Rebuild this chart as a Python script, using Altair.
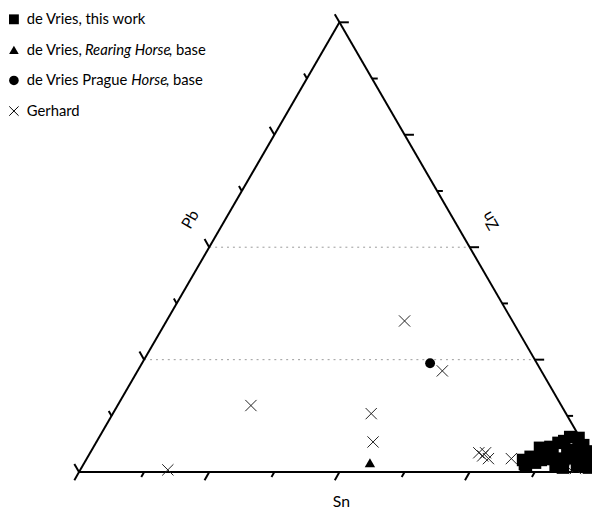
import altair as alt
import pandas as pd
import numpy as np

# ---- data: ternary shares in % (apex component, right-corner component) ----
sq_apex = [2.7, 3.4, 1.2, 2.1, 2.7, 5.4, 5.6, 3.8, 6.5, 6.9, 7.8, 7.6, 6.0, 4.9, 4.3, 3.0, 3.6, 2.1, 1.6, 1.0, 1.4,
           2.9, 1.8, 3.1, 1.0, 1.5, 4.5, 4.6]
sq_right = [83.9, 85.0, 85.2, 86.5, 87.3, 85.8, 87.7, 89.0, 88.8, 89.7, 90.4, 92.1, 93.8, 93.0, 91.6, 90.9, 94.8, 96.5, 94.8, 97.4, 90.8,
            88.5, 84.7, 92.8, 92.4, 96.0, 88.0, 95.3]
tri_apex = [2.1]
tri_right = [54.8]
cir_apex = [24.2]
cir_right = [55.3]
ger_apex = [33.6, 22.5, 14.8, 13.0, 6.7, 0.5, 4.3, 3.6, 4.3, 3.0, 3.0, 1.2, 0.8]
ger_right = [45.7, 58.5, 25.6, 49.6, 53.1, 16.8, 74.6, 75.7, 75.9, 77.1, 81.5, 93.2, 94.9]

legend_labels = ["de Vries, this work", "de Vries,", "Rearing Horse", ", base",
                 "de Vries Prague", "Horse", ", base", "Gerhard"]
axis_labels = ["Pb", "Zn", "Sn"]
tick_fracs = [i / 8 for i in range(9)]
grid_levels = [0.25, 0.5]

H = np.sqrt(3) / 2


def to_xy(apex, right):
    a = np.array(apex) / 100.0
    r = np.array(right) / 100.0
    return pd.DataFrame({"x": r + a / 2, "y": a * H})


sq = to_xy(sq_apex, sq_right)
tr = to_xy(tri_apex, tri_right)
ci = to_xy(cir_apex, cir_right)
ge = to_xy(ger_apex, ger_right)

# frame
L = np.array([0.0, 0.0]); A = np.array([0.5, H]); R = np.array([1.0, 0.0])
edges = pd.DataFrame({"x": [L[0], A[0], L[0]], "y": [L[1], A[1], L[1]],
                      "x2": [A[0], R[0], R[0]], "y2": [A[1], R[1], R[1]]})

rows = []
for i, t in enumerate(tick_fracs):
    ln = 0.018 if i % 2 == 0 else 0.011
    p = L + t * (A - L); d = np.array([-0.5, H])
    rows.append((p[0], p[1], p[0] + ln * d[0], p[1] + ln * d[1]))
    p = A + t * (R - A); d = np.array([1.0, 0.0])
    rows.append((p[0], p[1], p[0] + ln * d[0], p[1] + ln * d[1]))
    p = L + t * (R - L); d = np.array([-0.5, -H])
    rows.append((p[0], p[1], p[0] + ln * d[0], p[1] + ln * d[1]))
ticks = pd.DataFrame(rows, columns=["x", "y", "x2", "y2"])

grid = pd.DataFrame({"x": [g / 2 for g in grid_levels],
                     "x2": [1 - g / 2 for g in grid_levels],
                     "y": [g * H for g in grid_levels],
                     "y2": [g * H for g in grid_levels]})

# ---- scales (equal aspect) ----
W, HGT = 592, 506
PX = 528.0
X0 = -72 / PX
YPX = 526.5
Y0 = -(HGT - 467) / YPX
xs = alt.Scale(domain=[X0, X0 + W / PX], nice=False, zero=False)
ys = alt.Scale(domain=[Y0, Y0 + HGT / YPX], nice=False, zero=False)


def enc(df_mark, two=False):
    e = dict(x=alt.X("x:Q", scale=xs, axis=None), y=alt.Y("y:Q", scale=ys, axis=None))
    if two:
        e.update(x2="x2:Q", y2="y2:Q")
    return df_mark.encode(**e)


FONT = "Lato"
CROSS = "M-1,-1L1,1M-1,1L1,-1"

layers = []
layers.append(enc(alt.Chart(grid).mark_rule(color="#999", strokeWidth=1, strokeDash=[2, 4]), True))
layers.append(enc(alt.Chart(edges).mark_rule(color="black", strokeWidth=2), True))
layers.append(enc(alt.Chart(ticks).mark_rule(color="black", strokeWidth=2), True))
layers.append(enc(alt.Chart(ge).mark_point(shape=CROSS, filled=False, color="#222", strokeWidth=1, size=130, opacity=1)))
layers.append(enc(alt.Chart(sq).mark_point(shape="square", filled=True, color="black", size=160, opacity=1)))
layers.append(enc(alt.Chart(tr).mark_point(shape="triangle-up", filled=True, color="black", size=110, opacity=1)))
layers.append(enc(alt.Chart(ci).mark_point(shape="circle", filled=True, color="black", size=100, opacity=1)))


def text_at(txt, x, y, angle=0, italic=False, size=15, align="left"):
    kw = dict(font=FONT, fontSize=size, color="black", align=align, baseline="middle")
    if angle:
        kw["angle"] = angle
    if italic:
        kw["fontStyle"] = "italic"
    return alt.Chart(pd.DataFrame({"t": [txt]})).mark_text(**kw).encode(
        x=alt.value(x), y=alt.value(y), text="t:N")


def sym_at(shape, x, y, size, filled=True):
    kw = dict(shape=shape, filled=filled, color="black", size=size, opacity=1)
    if not filled:
        kw["strokeWidth"] = 1
    return alt.Chart(pd.DataFrame({"t": [0]})).mark_point(**kw).encode(
        x=alt.value(x), y=alt.value(y))


# axis labels (chart px = page px - 8)
layers.append(text_at(axis_labels[0], 185, 211, angle=300, align="center", size=16))
layers.append(text_at(axis_labels[1], 489, 212, angle=240, align="center", size=16))
layers.append(text_at(axis_labels[2], 338, 497, align="center", size=16))

# legend
ly = [8, 39, 70, 101]
lx = 19
layers.append(sym_at("square", 6, ly[0], 100))
layers.append(sym_at("triangle-up", 6, ly[1], 95))
layers.append(sym_at("circle", 6, ly[2], 95))
layers.append(sym_at(CROSS, 6, ly[3], 90, filled=False))
layers.append(text_at(legend_labels[0], lx, ly[0]))
layers.append(text_at(legend_labels[1], lx, ly[1]))
layers.append(text_at(legend_labels[2], 78, ly[1], italic=True))
layers.append(text_at(legend_labels[3], 163, ly[1]))
layers.append(text_at(legend_labels[4], lx, ly[2]))
layers.append(text_at(legend_labels[5], 125, ly[2], italic=True))
layers.append(text_at(legend_labels[6], 160, ly[2]))
layers.append(text_at(legend_labels[7], lx, ly[3]))

chart = alt.layer(*layers).properties(
    width=W, height=HGT, padding=0, autosize=alt.AutoSizeParams(type="none")
).configure_view(strokeWidth=0)

chart.save("out.html", embed_options={"renderer": "svg", "actions": False})
